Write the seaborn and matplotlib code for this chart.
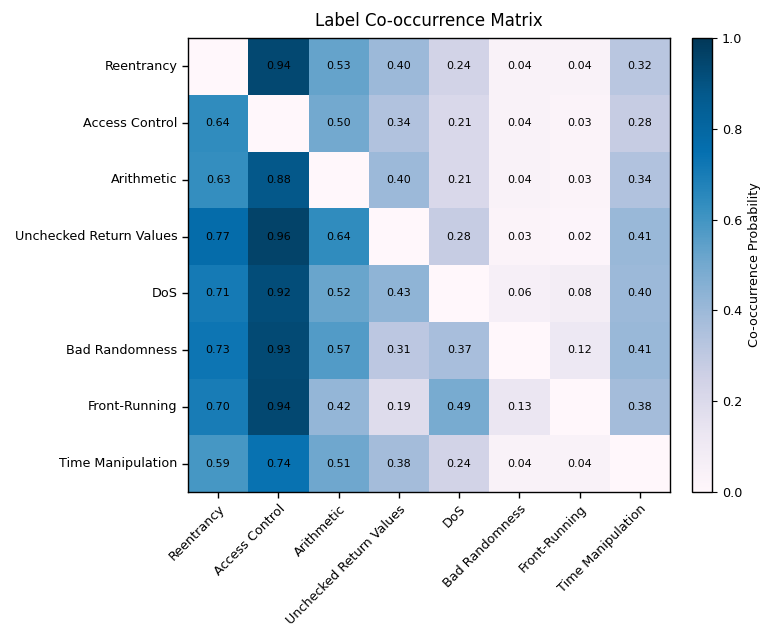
import numpy as np
import pandas as pd
import matplotlib
matplotlib.use("Agg")
import matplotlib.pyplot as plt
import seaborn as sns

labels = ["Reentrancy", "Access Control", "Arithmetic", "Unchecked Return Values",
          "DoS", "Bad Randomness", "Front-Running", "Time Manipulation"]

row_reentrancy = [0.00, 0.94, 0.53, 0.40, 0.24, 0.04, 0.04, 0.32]
row_access_control = [0.64, 0.00, 0.50, 0.34, 0.21, 0.04, 0.03, 0.28]
row_arithmetic = [0.63, 0.88, 0.00, 0.40, 0.21, 0.04, 0.03, 0.34]
row_unchecked = [0.77, 0.96, 0.64, 0.00, 0.28, 0.03, 0.02, 0.41]
row_dos = [0.71, 0.92, 0.52, 0.43, 0.00, 0.06, 0.08, 0.40]
row_bad_randomness = [0.73, 0.93, 0.57, 0.31, 0.37, 0.00, 0.12, 0.41]
row_front_running = [0.70, 0.94, 0.42, 0.19, 0.49, 0.13, 0.00, 0.38]
row_time_manipulation = [0.59, 0.74, 0.51, 0.38, 0.24, 0.04, 0.04, 0.00]

matrix = pd.DataFrame(
    [row_reentrancy, row_access_control, row_arithmetic, row_unchecked,
     row_dos, row_bad_randomness, row_front_running, row_time_manipulation],
    index=labels, columns=labels)

# annotate every off-diagonal cell, leave the diagonal blank
annot = matrix.map(lambda v: f"{v:.2f}").values
for i in range(len(labels)):
    annot[i, i] = ""

fig = plt.figure(figsize=(7.71, 6.28), dpi=100)
ax = fig.add_axes([188 / 771, 1 - 492 / 628, (670 - 188) / 771, (492 - 38) / 628])
cax = fig.add_axes([692 / 771, 1 - 492 / 628, 20 / 771, (492 - 38) / 628])

sns.heatmap(matrix, ax=ax, cbar_ax=cax, cmap="PuBu", vmin=0, vmax=1,
            annot=annot, fmt="", annot_kws={"size": 8, "color": "black"},
            cbar_kws={"label": "Co-occurrence Probability"})

for spine in ax.spines.values():
    spine.set_visible(True)
    spine.set_linewidth(1.0)
cbar = ax.collections[0].colorbar
cbar.outline.set_visible(True)
cbar.outline.set_linewidth(1.0)

ax.set_xticklabels(labels, rotation=45, ha="right", rotation_mode="anchor", fontsize=9.2)
ax.set_yticklabels(labels, rotation=0, fontsize=9.2)
ax.tick_params(axis="both", length=4, width=1)
cax.tick_params(labelsize=9.2)
cax.set_ylabel("Co-occurrence Probability", fontsize=9.2)
ax.set_xlabel("")
ax.set_ylabel("")
ax.set_title("Label Co-occurrence Matrix", fontsize=12, pad=9)

fig.savefig("out.png", dpi=100)
